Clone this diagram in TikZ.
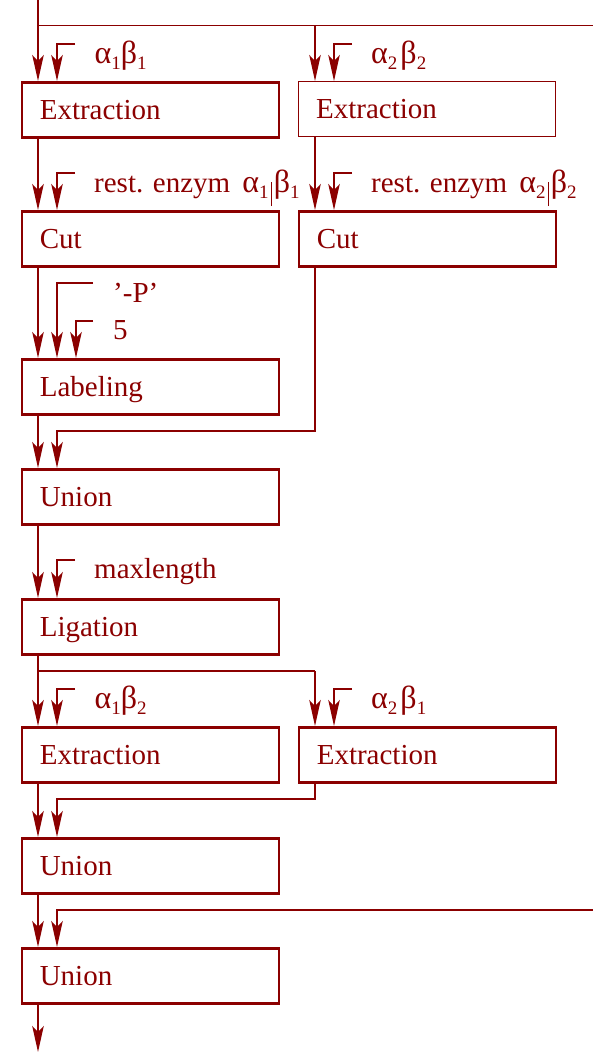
\documentclass[tikz,border=0pt]{standalone}
\usepackage{fontspec}
\setmainfont{Liberation Serif}
\usetikzlibrary{arrows.meta}
\definecolor{dna}{RGB}{139,0,0}
% lowered, smaller index digit
\newcommand\lsub[1]{\raisebox{-6pt}{\fontsize{19}{19}\selectfont #1}}
% slightly enlarged Greek letters
\newcommand\ga{{\fontsize{32}{34}\selectfont α}}
\newcommand\gb{{\fontsize{32}{34}\selectfont β}}
% tall separator bar between the two restriction sites
\newcommand\vbar{\kern2pt\rule[-14pt]{1.2pt}{24pt}\kern2pt}
\begin{document}
\begin{tikzpicture}[x=1pt,y=-1pt,
  every node/.style={text=dna,font=\fontsize{29}{34}\selectfont},
  box/.style={draw=dna,line width=2.6pt,rectangle,anchor=north west,
    minimum width=257pt,minimum height=55pt,text width=221pt,
    inner xsep=18pt,inner ysep=0pt,text height=19pt,text depth=0pt,align=left},
  thinbox/.style={box,line width=1.3pt},
  wire/.style={draw=dna,line width=1.4pt},
  arr/.style={wire,-{Stealth[length=26pt,width=11.5pt,inset=6pt]}},
  lbl/.style={anchor=base west,inner sep=0pt}]
\useasboundingbox (0,0) rectangle (593,1052);

% ---- process steps
\node[box]     (e1)  at (20.5,81)  {Extraction};
\node[thinbox] (e2)  at (297.5,81) {Extraction};
\node[box]     (c1)  at (20.5,210) {Cut};
\node[box]     (c2)  at (297.5,210){Cut};
\node[box]     (lab) at (20.5,358) {Labeling};
\node[box]     (u1)  at (20.5,468) {Union};
\node[box]     (lig) at (20.5,598) {Ligation};
\node[box]     (e3)  at (20.5,726) {Extraction};
\node[box]     (e4)  at (297.5,726){Extraction};
\node[box]     (u2)  at (20.5,837) {Union};
\node[box]     (u3)  at (20.5,947) {Union};

% ---- parameter labels
\node[lbl] (p1) at (94.5,63)  {\ga\lsub{1}\gb\lsub{1}};
\node[lbl] (p2) at (371,63)   {\ga\lsub{2}\kern3pt\gb\lsub{2}};
\node[lbl] (p3) at (94,192)   {rest. enzym\kern12pt\ga\lsub{1}\vbar\gb\lsub{1}};
\node[lbl] (p4) at (371,192)  {rest. enzym\kern12pt\ga\lsub{2}\vbar\gb\lsub{2}};
\node[lbl] (p5) at (113,302)  {’-P’};
\node[lbl] (p6) at (113,339)  {5};
\node[lbl] (p7) at (94,578)   {maxlength};
\node[lbl] (p8) at (94.5,708) {\ga\lsub{1}\gb\lsub{2}};
\node[lbl] (p9) at (371,708)  {\ga\lsub{2}\kern3pt\gb\lsub{1}};

% ---- junction points
\coordinate (in)  at (38,0);
\coordinate (j0)  at (38,25.5);
\coordinate (j0r) at (315,25.5);
\coordinate (x0)  at (593,25.5);
\coordinate (s1)  at (75,44);
\coordinate (s2)  at (352,44);
\coordinate (s3)  at (75,173);
\coordinate (s4)  at (352,173);
\coordinate (s5)  at (93,283);
\coordinate (s6)  at (93,321);
\coordinate (r1)  at (315,431);
\coordinate (r1l) at (57,431);
\coordinate (s7)  at (75,560);
\coordinate (j1)  at (38,671);
\coordinate (j1r) at (315,671);
\coordinate (s8)  at (75,689);
\coordinate (s9)  at (352,689);
\coordinate (r2)  at (315,799);
\coordinate (r2l) at (57,799);
\coordinate (x1)  at (593,910);
\coordinate (x1l) at (57,910);
\coordinate (out) at (38,1052);

% ---- main flow
\draw[arr] (in) -- ([xshift=17.5pt]e1.north west);
\draw[wire] (j0) -- (x0);
\draw[arr] (j0r) -- ([xshift=17.5pt]e2.north west);
\draw[arr] (s1) -| ([xshift=36.5pt]e1.north west);
\draw[arr] (s2) -| ([xshift=36.5pt]e2.north west);

\draw[arr] ([xshift=17.5pt]e1.south west) -- ([xshift=17.5pt]c1.north west);
\draw[arr] ([xshift=17.5pt]e2.south west) -- ([xshift=17.5pt]c2.north west);
\draw[arr] (s3) -| ([xshift=36.5pt]c1.north west);
\draw[arr] (s4) -| ([xshift=36.5pt]c2.north west);

\draw[arr] ([xshift=17.5pt]c1.south west) -- ([xshift=17.5pt]lab.north west);
\draw[arr] (s5) -| ([xshift=36.5pt]lab.north west);
\draw[arr] (s6) -| ([xshift=55.5pt]lab.north west);

\draw[arr] ([xshift=17.5pt]lab.south west) -- ([xshift=17.5pt]u1.north west);
\draw[arr] ([xshift=17.5pt]c2.south west) -- (r1) -- (r1l) -- ([xshift=36.5pt]u1.north west);

\draw[arr] ([xshift=17.5pt]u1.south west) -- ([xshift=17.5pt]lig.north west);
\draw[arr] (s7) -| ([xshift=36.5pt]lig.north west);

\draw[arr] ([xshift=17.5pt]lig.south west) -- ([xshift=17.5pt]e3.north west);
\draw[wire] (j1) -- (j1r);
\draw[arr] (j1r) -- ([xshift=17.5pt]e4.north west);
\draw[arr] (s8) -| ([xshift=36.5pt]e3.north west);
\draw[arr] (s9) -| ([xshift=36.5pt]e4.north west);

\draw[arr] ([xshift=17.5pt]e3.south west) -- ([xshift=17.5pt]u2.north west);
\draw[arr] ([xshift=17.5pt]e4.south west) -- (r2) -- (r2l) -- ([xshift=36.5pt]u2.north west);

\draw[arr] ([xshift=17.5pt]u2.south west) -- ([xshift=17.5pt]u3.north west);
\draw[arr] (x1) -- (x1l) -- ([xshift=36.5pt]u3.north west);

\draw[arr] ([xshift=17.5pt]u3.south west) -- (out);
\end{tikzpicture}
\end{document}
